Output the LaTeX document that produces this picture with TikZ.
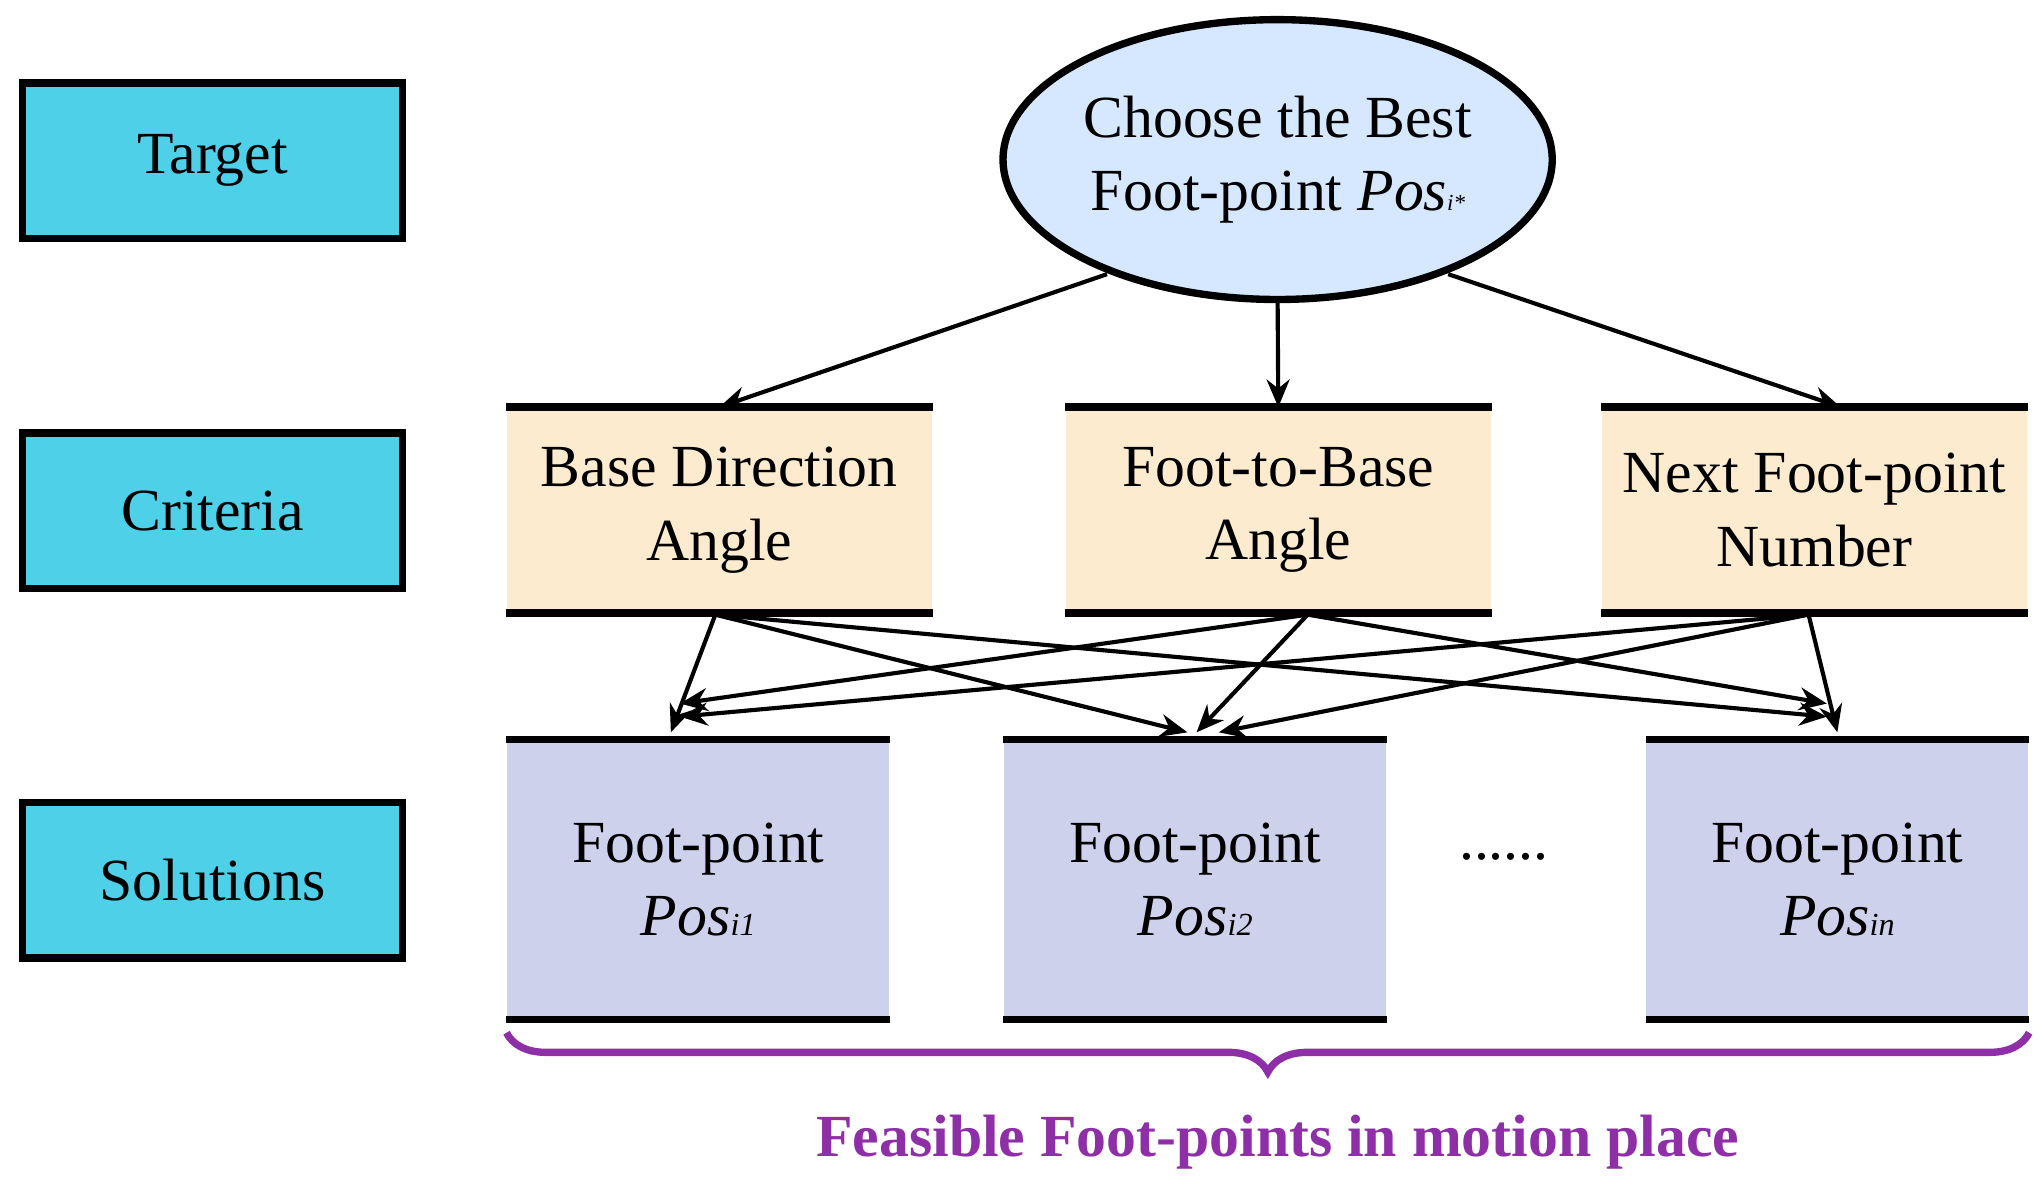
\documentclass[tikz,border=0pt]{standalone}
\usepackage{fontspec}
\setmainfont{Liberation Serif}
\usetikzlibrary{arrows.meta,decorations.pathreplacing,shapes.geometric}
\definecolor{labcyan}{HTML}{4DD0E8}
\definecolor{goalblue}{HTML}{D6E8FF}
\definecolor{critorange}{HTML}{FDEBD0}
\definecolor{solblue}{HTML}{CDD1EC}
\definecolor{bracepurple}{HTML}{8E2FA8}
\tikzset{
  label box/.style={draw, line width=1.6pt, fill=labcyan, minimum width=2.91cm, minimum height=1.19cm, font=\fontsize{13}{16}\selectfont},
  crit box/.style={fill=critorange, minimum width=3.25cm, minimum height=1.56cm, align=center, font=\fontsize{13}{16}\selectfont},
  sol box/.style={fill=solblue, minimum width=2.92cm, minimum height=2.13cm, align=center, font=\fontsize{13}{16}\selectfont},
  rule/.style={line width=1.6pt},
  link/.style={line width=0.9pt, -{Stealth[length=6pt,width=5pt]}}
}

\begin{document}
\begin{tikzpicture}
    \useasboundingbox (0,0) rectangle (15.6,-9.08);

    % Left column labels
    \node[label box] (target) at (1.625,-1.23) {Target};
    \node[label box] (criteria) at (1.625,-3.905) {Criteria};
    \node[label box] (solutions) at (1.625,-6.73) {Solutions};

    % Goal
    \node[draw, ellipse, line width=1.6pt, fill=goalblue, minimum width=4.12cm, minimum height=2.14cm, align=center,
          font=\fontsize{13}{16}\selectfont, inner sep=0pt] (goal) at (9.77,-1.22)
          {Choose the Best\\Foot-point \textit{Pos}{\tiny\textit{i*}}};

    % Criteria
    \node[crit box] (dir) at (5.5,-3.9) {Base Direction\\Angle};
    \node[crit box] (ftb) at (9.775,-3.9) {Foot-to-Base\\Angle};
    \node[crit box] (nxt) at (13.875,-3.9) {Next Foot-point\\Number};
    \foreach \n in {dir,ftb,nxt} {
        \draw[rule] (\n.north west) -- (\n.north east);
        \draw[rule] (\n.south west) -- (\n.south east);
    }

    % Solutions
    \node[sol box] (s1) at (5.34,-6.725) {Foot-point\\\textit{Pos}{\scriptsize\textit{i1}}};
    \node[sol box] (s2) at (9.14,-6.725) {Foot-point\\\textit{Pos}{\scriptsize\textit{i2}}};
    \node[sol box] (sn) at (14.05,-6.725) {Foot-point\\\textit{Pos}{\scriptsize\textit{in}}};
    \foreach \n in {s1,s2,sn} {
        \draw[rule] (\n.north west) -- (\n.north east);
        \draw[rule] (\n.south west) -- (\n.south east);
    }
    \node[font=\fontsize{13}{16}\selectfont] (dots) at (11.5,-6.55) {......};

    % Goal to criteria
    \draw[link] (goal.south west) ++(0.2,-0.1) coordinate (g1) (g1) -- (dir.north);
    \draw[link] (goal.south) -- (ftb.north);
    \draw[link] (goal.south east) ++(-0.2,-0.1) coordinate (g3) (g3) -- ([xshift=0.2cm]nxt.north);

    % Criteria to solutions
    \coordinate (c1) at (5.47,-4.7);
    \coordinate (c2) at (10.0,-4.7);
    \coordinate (c3) at (13.83,-4.7);
    \coordinate (t1a) at (5.13,-5.6);
    \coordinate (t1b) at (5.2,-5.38);
    \coordinate (t1c) at (5.2,-5.48);
    \coordinate (t2a) at (9.08,-5.6);
    \coordinate (t2b) at (9.15,-5.6);
    \coordinate (t2c) at (9.32,-5.6);
    \coordinate (t3a) at (13.97,-5.38);
    \coordinate (t3b) at (13.97,-5.48);
    \coordinate (t3c) at (14.05,-5.6);
    \draw[link] (c1) -- (t1a);
    \draw[link] (c1) -- (t2a);
    \draw[link] (c1) -- (t3b);
    \draw[link] (c2) -- (t1b);
    \draw[link] (c2) -- (t2b);
    \draw[link] (c2) -- (t3a);
    \draw[link] (c3) -- (t1c);
    \draw[link] (c3) -- (t2c);
    \draw[link] (c3) -- (t3c);

    % Brace
    \draw[bracepurple, line width=1.6pt, decorate, decoration={brace, mirror, amplitude=0.3cm}]
        ([yshift=-0.1cm]s1.south west) -- ([yshift=-0.1cm]sn.south east);
    \node[text=bracepurple, font=\fontsize{13}{16}\selectfont\bfseries] (feas) at (9.77,-8.73)
        {Feasible Foot-points in motion place};
\end{tikzpicture}
\end{document}
